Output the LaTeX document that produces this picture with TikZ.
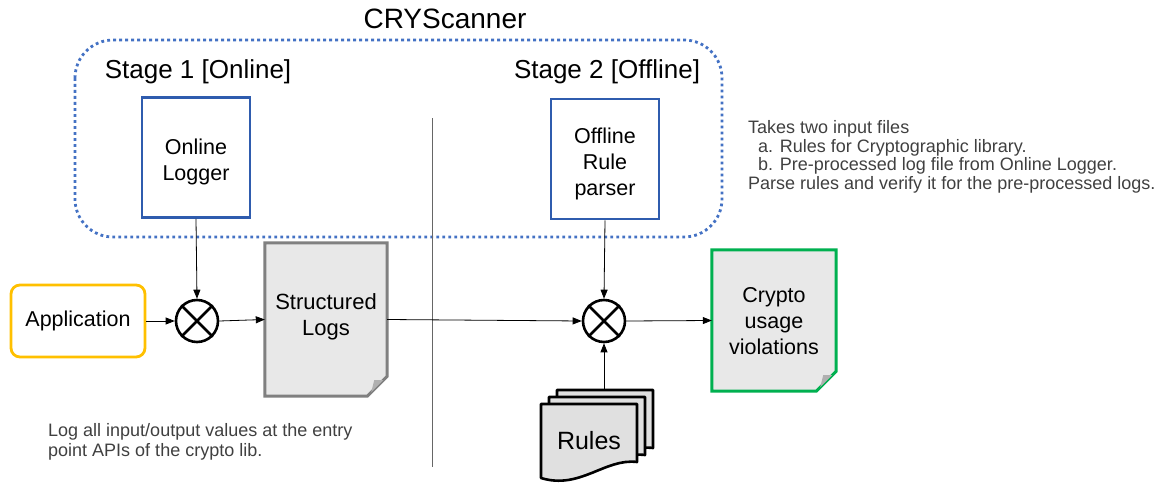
\documentclass[tikz,border=0pt]{standalone}
\usepackage{fontspec}
\setmainfont{Liberation Sans}
\usetikzlibrary{calc,arrows.meta}
\definecolor{bblue}{HTML}{2F5CAE}
\definecolor{dblue}{HTML}{4472C4}
\definecolor{orng}{HTML}{FFC000}
\definecolor{grn}{HTML}{00B050}
\definecolor{docfill}{HTML}{E8E8E8}
\definecolor{foldfill}{HTML}{B0B0B0}
\definecolor{txtgray}{HTML}{404040}
\tikzset{
  x=1pt,y=-1pt,
  lbl/.style={font=\fontsize{21.5}{24}\selectfont,align=center,inner sep=0pt},
  stagebox/.style={draw=bblue,line width=2.8pt,minimum width=108,minimum height=120},
  mixer/.style={circle,draw,line width=2.6pt,minimum size=42,inner sep=0pt},
  arr/.style={-{Triangle[length=9pt,width=7pt]},line width=0.8pt},
  note/.style={font=\fontsize{18}{18.8}\selectfont,align=left,text=txtgray,inner sep=0pt,anchor=north west},
}
\newcommand{\mixcross}[1]{\draw[line width=2.6pt] (#1.north west) -- (#1.south east) (#1.north east) -- (#1.south west);}
\begin{document}
\begin{tikzpicture}
\useasboundingbox (0,0) rectangle (1168,487);
% title and container
\node[font=\fontsize{28}{30}\selectfont,inner sep=0pt] (title) at (445,19) {CRYScanner};
\draw[dblue,line width=2.8pt,dash pattern=on 2.8pt off 3.2pt,rounded corners=38] (75,40) rectangle (722,237);
\node[font=\fontsize{26}{28}\selectfont,inner sep=0pt] (s1) at (198,72) {Stage 1 [Online]};
\node[font=\fontsize{26}{28}\selectfont,inner sep=0pt] (s2) at (607,72) {Stage 2 [Offline]};
% separator
\coordinate (sepT) at (432,118);
\coordinate (sepB) at (432,467);
\draw[gray!80!black,line width=0.8pt] (sepT) -- (sepB);
% stage boxes
\node[stagebox] (logger) at (196,157.5) {};
\node[lbl] (loggertext) at ($(logger)+(0,4)$) {Online\\[2pt]Logger};
\node[stagebox] (parser) at (605,159) {};
\node[lbl] (parsertext) at ($(parser)+(0,5)$) {Offline\\[2pt]Rule\\[2pt]parser};
% application
\node[draw=orng,line width=2.8pt,rounded corners=9,minimum width=134,minimum height=72,lbl] (app) at (78,321) {Application};
% mixers
\node[mixer] (m1) at (197,321) {};
\mixcross{m1}
\node[mixer] (m2) at (604,321) {};
\mixcross{m2}
% structured logs document
\node[minimum width=122,minimum height=153,inner sep=0pt] (logs) at (326,319.5) {};
\draw[gray,line width=3pt,fill=docfill,line join=miter]
  (logs.north west) -- (logs.north east) -- ($(logs.south east)+(0,-20)$) -- ($(logs.south east)+(-20,0)$) -- (logs.south west) -- cycle;
\fill[foldfill] ($(logs.south east)+(-4,-16)$) -- ($(logs.south east)+(-16,-4)$) -- ($(logs.south east)+(-13,-16)$) -- cycle;
\node[lbl,font=\fontsize{22}{24}\selectfont] (logstext) at ($(logs)+(0,-3)$) {Structured\\[2pt]Logs};
% crypto violations document
\node[minimum width=124,minimum height=141,inner sep=0pt] (viol) at (774,320.5) {};
\draw[grn,line width=3pt,fill=docfill,line join=miter]
  (viol.north west) -- (viol.north east) -- ($(viol.south east)+(0,-20)$) -- ($(viol.south east)+(-20,0)$) -- (viol.south west) -- cycle;
\fill[foldfill] ($(viol.south east)+(-4,-16)$) -- ($(viol.south east)+(-16,-4)$) -- ($(viol.south east)+(-13,-16)$) -- cycle;
\node[lbl] (violtext) at ($(viol)+(0,1)$) {Crypto\\[2pt]usage\\[2pt]violations};
% rules multi-document
\foreach \dx/\dy in {16/-14,8/-7,0/0}{
  \draw[line width=2.6pt,fill=black!12,line join=round,shift={(\dx,\dy)}]
    (541,404) -- (637,404) -- (637,462) .. controls (605,458) and (580,490) .. (541,478) -- cycle;
}
\node[font=\fontsize{25}{28}\selectfont,inner sep=0pt] (rules) at (589,441) {Rules};
\coordinate (rulesTop) at (604,390);
% connectors
\draw[arr] (logger.south) -- (m1.north);
\draw[arr] (app.east) -- (m1.west);
\draw[arr] (m1.east) -- (logs.west);
\draw[arr] (logs.east) -- (m2.west);
\draw[arr] (parser.south) -- (m2.north);
\draw[arr] (rulesTop) -- (m2.south);
\draw[arr] (m2.east) -- (viol.west);
% notes
\node[note] (n1) at (748,120) {Takes two input files\\
\ \ a. Rules for Cryptographic library.\\
\ \ b. Pre-processed log file from Online Logger.\\
Parse rules and verify it for the pre-processed logs.};
\node[note,font=\fontsize{18}{20.5}\selectfont] (n2) at (48,423) {Log all input/output values at the entry\\point APIs of the crypto lib.};
\end{tikzpicture}
\end{document}
